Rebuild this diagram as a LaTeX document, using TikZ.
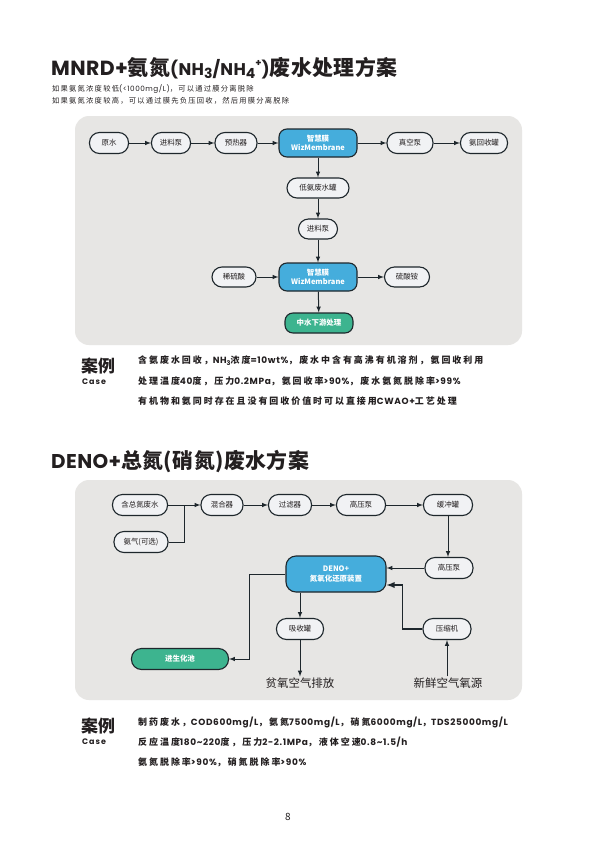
\documentclass[tikz,border=0pt]{standalone}
\usepackage{fontspec}
\setmainfont{Noto Sans CJK SC}
\newfontfamily\spaced[LetterSpace=22]{Noto Sans CJK SC}
\newfontfamily\subspaced[LetterSpace=17]{Noto Sans CJK SC}
\newfontfamily\titlefont[LetterSpace=2]{Noto Sans CJK SC}
\newfontfamily\latf[LetterSpace=2]{Poppins}
\newfontfamily\latcase[LetterSpace=7]{Poppins}
\usetikzlibrary{calc,arrows,positioning}

\definecolor{panelgray}{HTML}{E7E6E4}
\definecolor{pillfill}{HTML}{F1F2F4}
\definecolor{linedark}{HTML}{1E272C}
\definecolor{wizblue}{HTML}{45ADDC}
\definecolor{bioGreen}{HTML}{3DB48F}
\definecolor{textdark}{HTML}{231F20}

\newcommand\lt[1]{{\latf #1}}
\newcommand\lc[1]{{\latcase #1}}
\newcommand\lowidx[1]{\raisebox{-.4ex}{\fontsize{6.5}{6.5}\selectfont #1}}

\begin{document}
\begin{tikzpicture}[x=1bp,y=-1bp,
  pill/.style={draw=linedark,line width=1.1bp,fill=pillfill,rounded corners=10bp,
    minimum height=21bp,minimum width=40bp,inner xsep=6bp,text=textdark,
    font=\fontsize{7.5}{8}\selectfont},
  bluebox/.style={draw=linedark,line width=1.1bp,fill=wizblue,rounded corners=8bp,
    minimum width=78bp,minimum height=28bp,text=white,align=center,
    font=\bfseries\fontsize{7.5}{9.5}\selectfont},
  greenbox/.style={draw=linedark,line width=1.1bp,fill=bioGreen,rounded corners=10bp,
    minimum height=21bp,text=white,font=\bfseries\fontsize{7.5}{8}\selectfont},
  arr/.style={-latex,line width=1bp,draw=linedark},
  panel/.style={fill=panelgray,rounded corners=14bp},
  casetxt/.style={anchor=west,inner sep=0,text=textdark,
    font=\spaced\bfseries\fontsize{9}{10}\selectfont},
  subtxt/.style={anchor=west,inner sep=0,text=textdark,
    font=\subspaced\fontsize{7.3}{9}\selectfont}]

\useasboundingbox (0,0) rectangle (595,842);
\fill[white] (0,0) rectangle (595,842);

% ---- part 1 : MNRD
\node[anchor=west,inner sep=0,text=textdark] (title1) at (51,68)
  {\titlefont\bfseries\fontsize{21}{24}\selectfont\lt{\fontsize{20.5}{24}\selectfont MNRD+}氨氮\lt{\fontsize{17}{20}\selectfont(NH\raisebox{-.4ex}{\fontsize{14}{14}\selectfont 3}/NH\raisebox{-.4ex}{\fontsize{14}{14}\selectfont 4}\raisebox{.9ex}{\fontsize{10}{10}\selectfont+})}废水处理方案};
\node[subtxt] (sub1) at (52,89) {如果氨氮浓度较低\lc{(<1000mg/L)}，可以通过膜分离脱除};
\node[subtxt] (sub2) at (52,101) {如果氨氮浓度较高，可以通过膜先负压回收，然后用膜分离脱除};

\fill[panel] (75,116) rectangle (522,345);

\node[pill,minimum width=39bp] (raw) at (109,143) {原水};
\node[pill,minimum width=39bp] (feedA) at (171,143) {进料泵};
\node[pill,minimum width=42bp] (heater) at (236,143) {预热器};
\node[bluebox] (wizA) at (318,143) {智慧膜\\WizMembrane};
\node[pill,minimum width=46bp] (vacuum) at (410,143) {真空泵};
\node[pill,minimum width=47bp] (ammTank) at (484,143) {氨回收罐};
\node[pill,minimum width=62bp,minimum height=20bp] (lowTank) at (318,188) {低氨废水罐};
\node[pill,minimum width=39bp,minimum height=20bp] (feedB) at (318,229) {进料泵};
\node[pill,minimum width=44bp,minimum height=20bp] (acid) at (234,277) {稀硫酸};
\node[bluebox] (wizB) at (318,277) {智慧膜\\WizMembrane};
\node[pill,minimum width=45bp,minimum height=20bp] (salt) at (407,277) {硫酸铵};
\node[greenbox,minimum width=68bp,rounded corners=8bp,minimum height=20bp] (reuse) at (319,323) {中水下游处理};

\draw[arr] (raw) -- (feedA);
\draw[arr] (feedA) -- (heater);
\draw[arr] (heater) -- (wizA);
\draw[arr] (wizA) -- (vacuum);
\draw[arr] (vacuum) -- (ammTank);
\draw[arr] (wizA) -- (lowTank);
\draw[arr] (lowTank) -- (feedB);
\draw[arr] (feedB) -- (wizB);
\draw[arr] (acid) -- (wizB);
\draw[arr] (wizB) -- (salt);
\draw[arr] (wizB) -- (reuse);

\node[anchor=west,inner sep=0,text=textdark,font=\bfseries\fontsize{17}{18}\selectfont] (caseA) at (81,366) {案例};
\node[anchor=west,inner sep=0,text=textdark,font=\latf\bfseries\fontsize{8}{9}\selectfont] (caseAen) at (82,382) {\addfontfeature{LetterSpace=12}Case};
\node[casetxt] (caseA1) at (138,361) {含氨废水回收，\lc{NH\lowidx{3}}浓度\lc{=10wt\%}，废水中含有高沸有机溶剂，氨回收利用};
\node[casetxt] (caseA2) at (138,381) {处理温度\lc{40}度，压力\lc{0.2MPa}，氨回收率\lc{>90\%}，废水氨氮脱除率\lc{>99\%}};
\node[casetxt] (caseA3) at (138,401) {有机物和氨同时存在且没有回收价值时可以直接用\lc{CWAO+}工艺处理};

% ---- part 2 : DENO
\node[anchor=west,inner sep=0,text=textdark] (title2) at (51,462)
  {\titlefont\bfseries\fontsize{21}{24}\selectfont\lt{\fontsize{20}{24}\selectfont DENO+}总氮(硝氮)废水方案};

\fill[panel] (75,480) rectangle (522,700);

\node[pill,minimum width=55bp] (tnWater) at (140,505) {含总氮废水};
\node[pill,minimum width=54bp] (ammGas) at (141,542) {氨气(可选)};
\node[pill,minimum width=42bp] (mixer) at (222,505) {混合器};
\node[pill,minimum width=43bp] (filter) at (290,505) {过滤器};
\node[pill,minimum width=49bp] (pumpA) at (361,505) {高压泵};
\node[pill,minimum width=49bp] (buffer) at (448,505) {缓冲罐};
\node[pill,minimum width=48bp] (pumpB) at (449,568) {高压泵};
\node[bluebox,minimum width=100bp,minimum height=36bp,rounded corners=10bp] (deno) at (336,574) {DENO+\\氮氧化还原装置};
\node[pill,minimum width=47bp] (absorb) at (300,629) {吸收罐};
\node[pill,minimum width=48bp] (compr) at (447,629) {压缩机};
\node[greenbox,minimum width=97bp] (bio) at (180,659) {进生化池};
\node[inner sep=1bp,text=textdark,font=\fontsize{11.5}{12}\selectfont] (offgas) at (300,683) {贫氧空气排放};
\node[inner sep=1bp,text=textdark,font=\fontsize{11.5}{12}\selectfont] (freshair) at (448,683) {新鲜空气氧源};

\coordinate (merge) at (184,505);
\draw[arr] (tnWater) -- (mixer);
\draw[line width=1bp,draw=linedark] (ammGas.east) -| (merge);
\draw[arr] (mixer) -- (filter);
\draw[arr] (filter) -- (pumpA);
\draw[arr] (pumpA) -- (buffer);
\draw[arr] (buffer.south) -- (buffer.south |- pumpB.north);
\draw[arr] (pumpB.west) -- (pumpB.west -| deno.east);
\draw[arr,line width=1.8bp] (compr.west) -- ++(-20,0) |- ($(deno.east)+(0,11)$);
\draw[arr] (deno.west) -- ++(-36,0) |- (bio.east);
\draw[arr] (absorb.north |- deno.south) -- (absorb.north);
\draw[arr] (absorb) -- (offgas);
\draw[arr] (freshair.north -| compr.south) -- (compr.south);

\node[anchor=west,inner sep=0,text=textdark,font=\bfseries\fontsize{17}{18}\selectfont] (caseB) at (81,726) {案例};
\node[anchor=west,inner sep=0,text=textdark,font=\latf\bfseries\fontsize{8}{9}\selectfont] (caseBen) at (82,742) {\addfontfeature{LetterSpace=12}Case};
\node[casetxt] (caseB1) at (138,722) {制药废水，\lc{COD600mg/L}，氨氮\lc{7500mg/L}，硝氮\lc{6000mg/L}，\lc{TDS25000mg/L}};
\node[casetxt] (caseB2) at (138,742) {反应温度\lc{180\textasciitilde220}度，压力\lc{2-2.1MPa}，液体空速\lc{0.8\textasciitilde1.5/h}};
\node[casetxt] (caseB3) at (138,762) {氨氮脱除率\lc{>90\%}，硝氮脱除率\lc{>90\%}};

\node[text=textdark,font=\fontsize{10}{12}\selectfont] (pageno) at (288,817) {8};
\end{tikzpicture}
\end{document}
